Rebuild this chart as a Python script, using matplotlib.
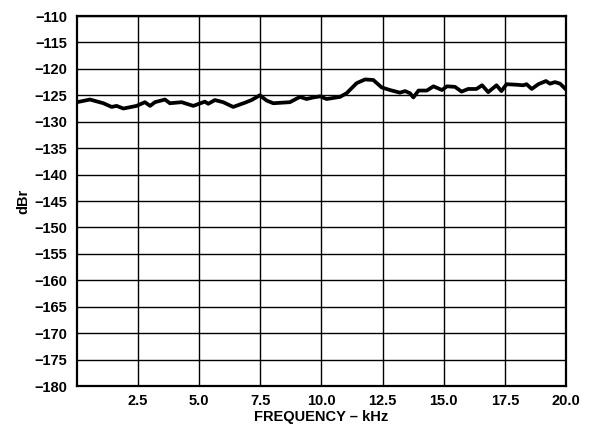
import matplotlib
matplotlib.use("Agg")
import matplotlib.pyplot as plt
import numpy as np

plt.rcParams["font.family"] = ["Liberation Sans", "DejaVu Sans"]
plt.rcParams["font.weight"] = "bold"

# === Data ===
freq_khz = [0.0, 0.53, 1.08, 1.42, 1.62, 1.9, 2.44, 2.78, 2.99, 3.19, 3.6, 3.8,
            4.28, 4.76, 5.23, 5.37, 5.64, 5.98, 6.39, 6.87, 7.14, 7.48, 7.76,
            8.03, 8.71, 9.12, 9.39, 9.67, 9.94, 10.21, 10.76, 11.03, 11.44,
            11.78, 12.12, 12.46, 12.8, 13.21, 13.42, 13.62, 13.76, 13.97,
            14.31, 14.58, 14.93, 15.13, 15.46, 15.73, 16.0, 16.34, 16.57,
            16.82, 17.16, 17.36, 17.57, 17.98, 18.25, 18.39, 18.6, 18.87,
            19.18, 19.35, 19.55, 19.76, 20.0]
level_dbr = [-126.3, -125.8, -126.5, -127.2, -127.0, -127.5, -127.0, -126.3,
             -127.0, -126.3, -125.8, -126.5, -126.3, -127.0, -126.2, -126.6,
             -125.9, -126.3, -127.2, -126.4, -125.9, -125.0, -126.0, -126.5,
             -126.3, -125.3, -125.7, -125.4, -125.2, -125.7, -125.3, -124.6,
             -122.7, -122.0, -122.1, -123.5, -124.0, -124.5, -124.2, -124.6,
             -125.4, -124.1, -124.1, -123.3, -124.0, -123.3, -123.4, -124.3,
             -123.8, -123.8, -123.1, -124.4, -123.1, -124.2, -122.9, -123.0,
             -123.1, -122.9, -123.8, -122.9, -122.3, -122.8, -122.5, -122.8,
             -123.9]

x_ticks = [2.5, 5.0, 7.5, 10.0, 12.5, 15.0, 17.5, 20.0]
y_ticks = list(range(-180, -105, 5))

fig = plt.figure(figsize=(5.92, 4.33), dpi=100)
ax = fig.add_axes([0.130, 0.1085, 0.826, 0.8545])

ax.plot(freq_khz, level_dbr, color="black", linewidth=2.7, solid_joinstyle="round")

ax.set_xlim(0, 20)
ax.set_ylim(-180, -110)
ax.set_xticks(x_ticks)
ax.set_xticklabels([f"{t:.1f}" for t in x_ticks])
ax.set_yticks(y_ticks)
ax.set_yticklabels([f"\u2212{abs(t)}" for t in y_ticks])
ax.tick_params(axis="both", length=0, labelsize=10.5)
ax.tick_params(axis="y", pad=7)
ax.tick_params(axis="x", pad=6)
ax.grid(True, color="black", linewidth=1.0)
for s in ax.spines.values():
    s.set_linewidth(1.6)

ax.set_xlabel("FREQUENCY \u2013 kHz", fontsize=10.5, fontweight="bold", labelpad=1)
ax.set_ylabel("dBr", fontsize=10.5, fontweight="bold", labelpad=3)

fig.savefig("out.png", dpi=100)
